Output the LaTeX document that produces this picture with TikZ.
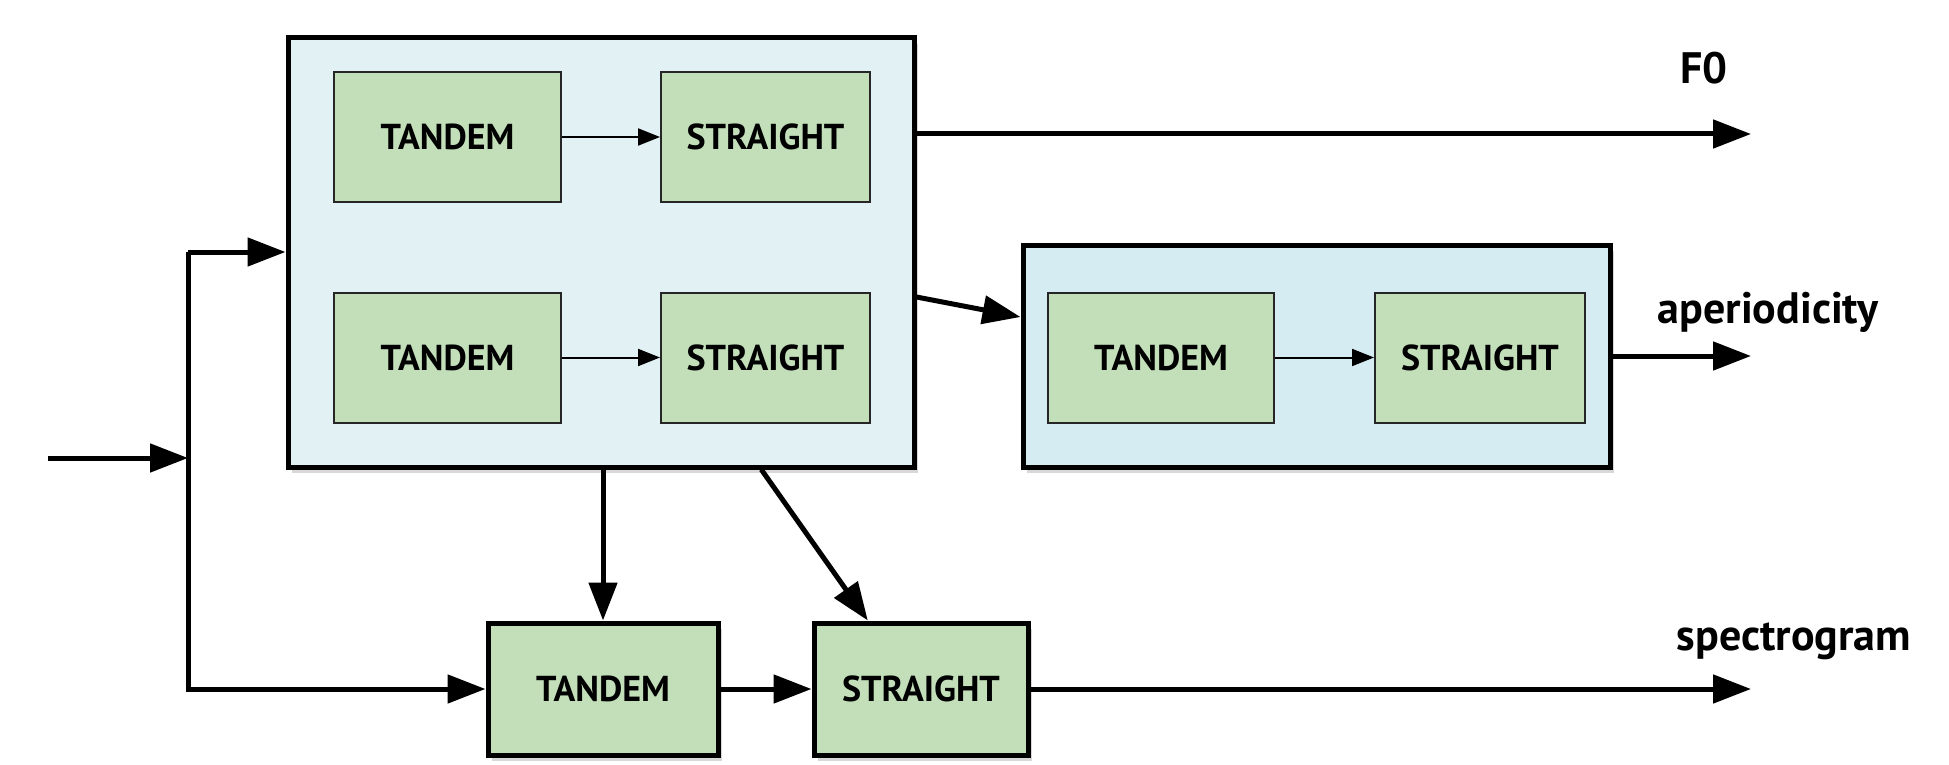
\documentclass[tikz,border=0pt]{standalone}
\usepackage{fontspec}
\setmainfont{PT Sans}
\usetikzlibrary{calc}
\usetikzlibrary{arrows.meta}
\usetikzlibrary{shadows}
\definecolor{panelblue}{RGB}{226,241,243}
\definecolor{panelsky}{RGB}{214,236,243}
\definecolor{cellgreen}{RGB}{194,223,186}
\tikzset{panel/.style={draw=black,line width=2.5pt,fill=#1,drop shadow={opacity=0.3,shadow xshift=2pt,shadow yshift=-3pt}},panel/.default=panelblue}
\tikzset{cell/.style={draw=#1,line width=1pt,fill=cellgreen,inner sep=0pt,font=\fontsize{18}{21}\selectfont\bfseries},cell/.default=black!85}
\tikzset{stage/.style={cell=black,line width=2.5pt,drop shadow={opacity=0.3,shadow xshift=2pt,shadow yshift=-3pt}}}
\tikzset{flow/.style={draw=black,line width=2.5pt,-{Triangle[length=19pt,width=14pt]}}}
\tikzset{link/.style={draw=black,line width=1pt,-{Triangle[length=11pt,width=8.5pt]}}}
\tikzset{outlabel/.style={anchor=base,inner sep=0pt,font=\fontsize{22}{26}\selectfont\bfseries}}

\begin{document}
\begin{tikzpicture}[x=0.5pt,y=-0.5pt]
	\useasboundingbox[fill=white] (0,0) rectangle (1949,765);

	\node [panel,minimum width=313pt,minimum height=214.5pt] (front) at (601,252.5) {};
	\node [cell,minimum width=113.5pt,minimum height=65pt] (tandemA) at (447.5,137) {TANDEM};
	\node [cell,minimum width=104.5pt,minimum height=65pt] (straightA) at (765.5,137) {STRAIGHT};
	\node [cell,minimum width=113.5pt,minimum height=65pt] (tandemB) at (447.5,357.5) {TANDEM};
	\node [cell,minimum width=104.5pt,minimum height=65pt] (straightB) at (765.5,357.5) {STRAIGHT};
	\draw [link] (tandemA) -- (straightA);
	\draw [link] (tandemB) -- (straightB);

	\node [panel=panelsky,minimum width=293.5pt,minimum height=111pt] (back) at (1316.5,356) {};
	\node [cell,minimum width=113pt,minimum height=65pt] (tandemC) at (1161,357.5) {TANDEM};
	\node [cell,minimum width=105pt,minimum height=65pt] (straightC) at (1480,357.5) {STRAIGHT};
	\draw [link] (tandemC) -- (straightC);

	\node [stage,minimum width=115pt,minimum height=66pt] (tandemD) at (603,689) {TANDEM};
	\node [stage,minimum width=107pt,minimum height=66pt] (straightD) at (921,689) {STRAIGHT};

	\coordinate (in) at (48,458);
	\coordinate (split) at (188,458);
	\coordinate (splittop) at (188,252);
	\coordinate (f0out) at (1751,134);
	\coordinate (apout) at (1751,356);
	\coordinate (spout) at (1751,689);
	\coordinate (frontout) at (0,297);
	\coordinate (backin) at (0,317);

	\draw [flow] (in) -- (split);
	\draw [flow] (splittop) -- (front.west |- splittop);
	\draw [flow] (splittop) |- (tandemD.west);
	\draw [flow] (front.east |- f0out) -- (f0out);
	\draw [flow] (front.east |- frontout) -- (back.west |- backin);
	\draw [flow] (back.east |- apout) -- (apout);
	\draw [flow] (tandemD.north |- front.south) -- (tandemD.north);
	\draw [flow] ($(front.south west)!0.754!(front.south east)$) -- ($(straightD.north west)!0.257!(straightD.north east)$);
	\draw [flow] (tandemD) -- (straightD);
	\draw [flow] (straightD) -- (spout);

	\node [outlabel] (f0) at (1704,84) {F0};
	\node [outlabel] (aperiodicity) at (1768,323) {aperiodicity};
	\node [outlabel] (spectrogram) at (1794,650) {spectrogram};
\end{tikzpicture}
\end{document}
